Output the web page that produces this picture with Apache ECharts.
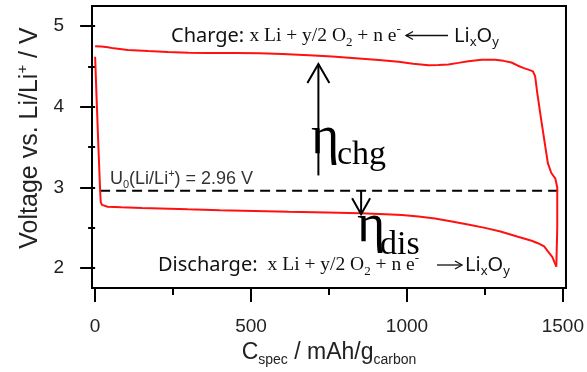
<!DOCTYPE html>
<html>
<head>
<meta charset="utf-8">
<script src="https://cdn.jsdelivr.net/npm/echarts@6/dist/echarts.min.js"></script>
<style>
  html, body { margin: 0; padding: 0; background: #fff; }
  #chart { width: 587px; height: 372px; }
</style>
</head>
<body>
<div id="chart"></div>
<script>
// Discharge branch: specific capacity (mAh/g carbon) vs. cell voltage (V vs. Li/Li+)
const dischargeCap = [0, 5, 11, 16, 18, 22, 26, 40, 84, 150, 297, 400, 510, 620, 744, 850, 931, 984, 1037, 1090, 1144, 1200, 1250, 1300, 1356, 1400, 1420, 1440, 1452, 1466, 1479];
const dischargeV   = [4.62, 4.08, 3.46, 2.97, 2.82, 2.785, 2.77, 2.762, 2.755, 2.745, 2.73, 2.72, 2.71, 2.70, 2.69, 2.68, 2.67, 2.659, 2.64, 2.615, 2.58, 2.54, 2.50, 2.455, 2.39, 2.34, 2.31, 2.27, 2.21, 2.14, 2.02];

// Charge branch, traced from the end of discharge back towards zero capacity
const chargeCap = [1479, 1482, 1482, 1476, 1463, 1452, 1442, 1429, 1418, 1411, 1404, 1394, 1375, 1356, 1335, 1310, 1282, 1240, 1197, 1165, 1133, 1101, 1069, 1020, 973, 910, 846, 760, 686, 600, 527, 450, 361, 300, 233, 170, 105, 60, 41, 20, 0];
const chargeV   = [2.02, 2.5, 3.0, 3.11, 3.18, 3.30, 3.55, 3.88, 4.17, 4.38, 4.44, 4.455, 4.48, 4.51, 4.55, 4.57, 4.583, 4.585, 4.566, 4.545, 4.525, 4.52, 4.517, 4.535, 4.558, 4.58, 4.60, 4.625, 4.64, 4.655, 4.665, 4.667, 4.668, 4.672, 4.68, 4.692, 4.706, 4.725, 4.74, 4.748, 4.752];

// Equilibrium potential of the Li/O2 couple
const u0Volt = 2.96;
const u0Span = [16, 1494];

// Axis extents and ticks
const xRange = [-10, 1510];
const yRange = [1.755, 5.25];
const xMajorTicks = [0, 500, 1000, 1500];
const xMinorTicks = [250, 750, 1250];
const yMajorTicks = [2, 3, 4, 5];
const yMinorTicks = [2.5, 3.5, 4.5];

// Overpotential arrows: [capacity, tail voltage, head voltage]
const chgArrow = [716, 3.15, 4.53];
const disArrow = [853, 2.96, 2.668];

const SANS = 'Liberation Sans';
const SERIF = 'Liberation Serif';
const LABEL = 'Noto Sans';

const chart = echarts.init(document.getElementById('chart'), null, { renderer: 'canvas' });

const tickStyle = { color: '#000', width: 2 };
const plainNumber = v => String(v);

function xAxisDef(ticks, len, withLabels) {
  return {
    type: 'value', position: 'bottom', min: xRange[0], max: xRange[1],
    axisLine: { show: false }, splitLine: { show: false },
    axisTick: { show: true, customValues: ticks, length: len, lineStyle: tickStyle },
    axisLabel: withLabels
      ? { show: true, customValues: ticks, formatter: plainNumber, margin: 29, fontSize: 19, fontFamily: SANS, color: '#222' }
      : { show: false }
  };
}
function yAxisDef(ticks, len, withLabels) {
  return {
    type: 'value', position: 'left', min: yRange[0], max: yRange[1],
    axisLine: { show: false }, splitLine: { show: false },
    axisTick: { show: true, customValues: ticks, length: len, lineStyle: tickStyle },
    axisLabel: withLabels
      ? { show: true, customValues: ticks, formatter: plainNumber, margin: 28, fontSize: 19, fontFamily: SANS, color: '#222' }
      : { show: false }
  };
}

const xMain = xAxisDef(xMajorTicks, 14, true);
xMain.name = '{c|C}{s|spec}{c| / mAh/g}{s|carbon}';
xMain.nameLocation = 'middle';
xMain.nameGap = 51;
xMain.nameTextStyle = {
  fontFamily: SANS, color: '#222',
  rich: {
    c: { fontSize: 23, fontFamily: SANS, color: '#222', lineHeight: 28 },
    s: { fontSize: 14, fontFamily: SANS, color: '#222', verticalAlign: 'bottom', lineHeight: 16 }
  }
};

const yMain = yAxisDef(yMajorTicks, 15, true);
yMain.name = '{c|Voltage vs. Li/Li}{p|+}{c| / V}';
yMain.nameLocation = 'middle';
yMain.nameGap = 46;
yMain.nameRotate = 90;
yMain.nameTextStyle = {
  fontFamily: SANS, color: '#222', padding: [0, 0, 0, 18],
  rich: {
    c: { fontSize: 25, fontFamily: SANS, color: '#222', lineHeight: 30 },
    p: { fontSize: 15, fontFamily: SANS, color: '#222', verticalAlign: 'top', lineHeight: 17 }
  }
};

const lineBase = { type: 'line', showSymbol: false, symbol: 'none', silent: true, animation: false };

chart.setOption({
  animation: false,
  grid: { left: 92, right: 19, top: 6, bottom: 84, show: true, borderColor: '#000', borderWidth: 2, backgroundColor: 'transparent' },
  xAxis: [xMain, xAxisDef(xMinorTicks, 7, false)],
  yAxis: [yMain, yAxisDef(yMinorTicks, 7, false)],
  series: [
    Object.assign({}, lineBase, {
      name: 'U0', data: u0Span.map(c => [c, u0Volt]),
      lineStyle: { color: '#000', width: 2, type: [10, 6] }, z: 3
    }),
    Object.assign({}, lineBase, {
      name: 'Discharge', data: dischargeCap.map((c, i) => [c, dischargeV[i]]),
      lineStyle: { color: '#ff1111', width: 2 }, z: 4
    }),
    Object.assign({}, lineBase, {
      name: 'Charge', data: chargeCap.map((c, i) => [c, chargeV[i]]),
      lineStyle: { color: '#ff1111', width: 2 }, z: 4
    })
  ]
});

// Annotation helpers (data coordinates -> pixels)
function px(cap, v) { return chart.convertToPixel({ gridIndex: 0 }, [cap, v]); }

function arrow(def, halfW, headLen) {
  const tail = px(def[0], def[1]);
  const head = px(def[0], def[2]);
  const dir = head[1] < tail[1] ? 1 : -1; // +1 when pointing up
  return [
    { type: 'line', shape: { x1: tail[0], y1: tail[1], x2: head[0], y2: head[1] }, style: { stroke: '#000', lineWidth: 2 }, z: 10 },
    { type: 'polyline', shape: { points: [[head[0] - halfW, head[1] + dir * headLen], [head[0], head[1]], [head[0] + halfW, head[1] + dir * headLen]] }, style: { stroke: '#000', lineWidth: 2, fill: null }, z: 10 }
  ];
}

// Reaction arrow inside the equation lines (x0 -> x1 at height y; head at x1)
function reactionArrow(x0, x1, y) {
  const d = x1 > x0 ? -1 : 1;
  return [
    { type: 'line', shape: { x1: x0, y1: y, x2: x1, y2: y }, style: { stroke: '#111', lineWidth: 1.3 }, z: 12 },
    { type: 'polyline', shape: { points: [[x1 + d * 7, y - 4], [x1, y], [x1 + d * 7, y + 4]] }, style: { stroke: '#111', lineWidth: 1.3, fill: null }, z: 12 }
  ];
}

const ink = '#111';
const chemRich = {
  s:  { fontFamily: LABEL, fontSize: 20, fill: ink, lineHeight: 26 },
  t:  { fontFamily: SERIF, fontSize: 19.5, fill: ink, lineHeight: 26 },
  ts: { fontFamily: SERIF, fontSize: 13, fill: ink, verticalAlign: 'bottom', lineHeight: 16 },
  tp: { fontFamily: SERIF, fontSize: 13, fill: ink, verticalAlign: 'top', lineHeight: 14 },
  ss: { fontFamily: LABEL, fontSize: 13, fill: ink, verticalAlign: 'bottom', lineHeight: 17 }
};
const chemText = (x, y, text) => ({ type: 'text', x, y, z: 12, style: { text, rich: chemRich, align: 'left', verticalAlign: 'top' } });

const graphics = [].concat(
  arrow(chgArrow, 11, 19),
  arrow(disArrow, 9, 16),
  [
    chemText(171, 23, '{s|Charge: }{t|x Li + y/2 O}{ts|2}{t| + n e}{tp|-}'),
    chemText(454, 23, '{s|Li}{ss|x}{s|O}{ss|y}'),
    chemText(158, 252, '{s|Discharge: }{t| x Li + y/2 O}{ts|2}{t| + n e}{tp|-}'),
    chemText(465, 252, '{s|Li}{ss|x}{s|O}{ss|y}')
  ],
  reactionArrow(448, 406, 35.5),
  reactionArrow(437, 462, 265),
  [
    { type: 'text', x: 110, y: 168, z: 12, style: {
      text: '{m|U}{b|0}{m|(Li/Li}{p|+}{m|) = 2.96 V}',
      rich: {
        m: { fontFamily: SANS, fontSize: 18, fill: '#333', lineHeight: 22 },
        b: { fontFamily: SANS, fontSize: 11, fill: '#333', verticalAlign: 'bottom', lineHeight: 13 },
        p: { fontFamily: SANS, fontSize: 11, fill: '#333', verticalAlign: 'top', lineHeight: 12 }
      }, align: 'left', verticalAlign: 'top' } },
    // overpotential symbols
    { type: 'text', x: 311, y: 138.5, z: 12, style: { text: 'η', fontFamily: SERIF, fontSize: 54, fill: '#000', align: 'left', verticalAlign: 'middle' } },
    { type: 'text', x: 337, y: 155, z: 12, style: { text: 'chg', fontFamily: SERIF, fontSize: 34, fill: '#000', align: 'left', verticalAlign: 'middle' } },
    { type: 'text', x: 357, y: 226.5, z: 12, style: { text: 'η', fontFamily: SERIF, fontSize: 54, fill: '#000', align: 'left', verticalAlign: 'middle' } },
    { type: 'text', x: 380, y: 245, z: 12, style: { text: 'dis', fontFamily: SERIF, fontSize: 34, fill: '#000', align: 'left', verticalAlign: 'middle' } }
  ]
);

chart.setOption({ graphic: graphics });
</script>
</body>
</html>
